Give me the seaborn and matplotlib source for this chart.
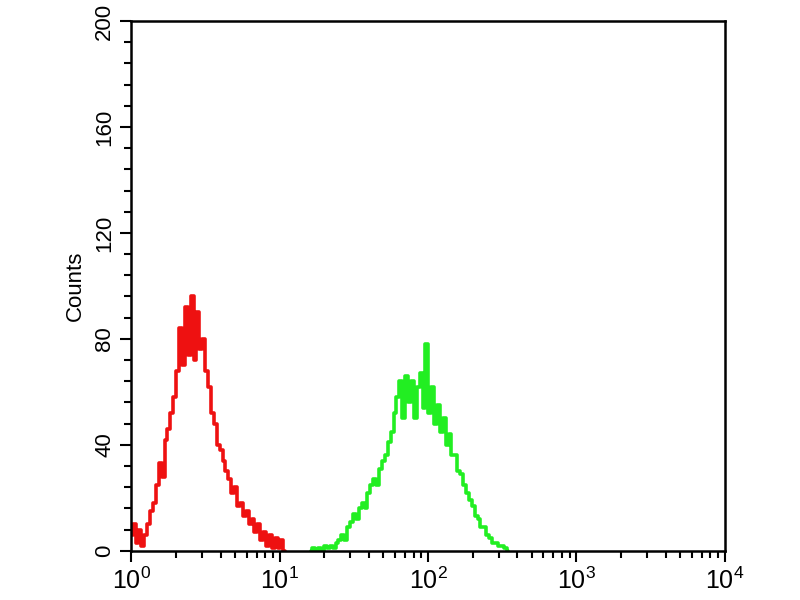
import matplotlib
matplotlib.use("Agg")
import matplotlib.pyplot as plt
import matplotlib.ticker as mticker
import seaborn as sns
import numpy as np
import pandas as pd

# Flow cytometry histogram: 1024 channels over 4 decades (256 channels per decade)
channels_per_decade = 256
channel_step = 5

# Red population (control), starting at channel 0
red_start_channel = 0
red_counts = [6, 10, 3, 8, 2, 6, 10, 15, 18, 25,
              33, 28, 42, 46, 52, 58, 68, 84, 70, 92,
              74, 96, 72, 90, 76, 80, 68, 62, 52, 48,
              40, 38, 34, 30, 27, 22, 24, 17, 18, 13,
              15, 10, 12, 7, 10, 4, 7, 2, 6, 1,
              5, 1, 4, 0]

# Green population (stained), starting at channel 310
green_start_channel = 310
green_counts = [0, 1, 0, 1, 0, 2, 1, 2, 1, 3,
                4, 6, 4, 9, 11, 14, 12, 16, 18, 16,
                22, 25, 27, 25, 31, 34, 36, 41, 45, 52,
                58, 64, 50, 66, 56, 64, 50, 62, 67, 54,
                78, 52, 62, 48, 55, 45, 50, 40, 44, 36,
                36, 30, 29, 25, 22, 19, 17, 13, 12, 9,
                9, 6, 5, 3, 3, 2, 2, 1, 0]

y_ticks = [0, 40, 80, 120, 160, 200]


def to_frame(start, counts):
    ch = start + channel_step * np.arange(len(counts))
    return pd.DataFrame({"intensity": 10 ** (ch / channels_per_decade), "count": counts})


red_df = to_frame(red_start_channel, red_counts)
green_df = to_frame(green_start_channel, green_counts)

sns.set_theme(style="white")
plt.rcParams["font.family"] = ["Liberation Sans", "DejaVu Sans"]
plt.rcParams["mathtext.default"] = "regular"
plt.rcParams["text.color"] = "black"
plt.rcParams["axes.labelcolor"] = "black"
plt.rcParams["xtick.color"] = "black"
plt.rcParams["ytick.color"] = "black"

fig = plt.figure(figsize=(8, 6), dpi=100)
ax = fig.add_axes([0.164, 0.082, 0.742, 0.883])

sns.lineplot(data=red_df, x="intensity", y="count", ax=ax, color="#ee1111",
             linewidth=2.6, drawstyle="steps-mid", estimator=None)
sns.lineplot(data=green_df, x="intensity", y="count", ax=ax, color="#22ee22",
             linewidth=2.6, drawstyle="steps-mid", estimator=None)

ax.set_xscale("log")
ax.set_xlim(1, 1e4)
ax.set_ylim(0, 200)
ax.set_yticks(y_ticks)
ax.yaxis.set_minor_locator(mticker.MultipleLocator(8))
ax.xaxis.set_major_locator(mticker.LogLocator(base=10, numticks=10))
ax.xaxis.set_minor_locator(mticker.LogLocator(base=10, subs=np.arange(2, 10), numticks=20))

ax.set_xlabel("")
ax.set_ylabel("Counts", fontsize=16, labelpad=6)
ax.tick_params(axis="both", which="major", direction="out", length=8, width=1.5,
               color="black", labelcolor="black", bottom=True, left=True)
ax.tick_params(axis="x", which="major", labelsize=18, pad=4)
ax.tick_params(axis="y", which="major", labelsize=16)
ax.tick_params(axis="both", which="minor", direction="out", length=5, width=1.5,
               color="black", bottom=True, left=True)
for lbl in ax.get_yticklabels():
    lbl.set_rotation(90)
    lbl.set_va("center")

for sp in ax.spines.values():
    sp.set_color("black")
    sp.set_linewidth(1.8)

fig.savefig("out.png", dpi=100)
